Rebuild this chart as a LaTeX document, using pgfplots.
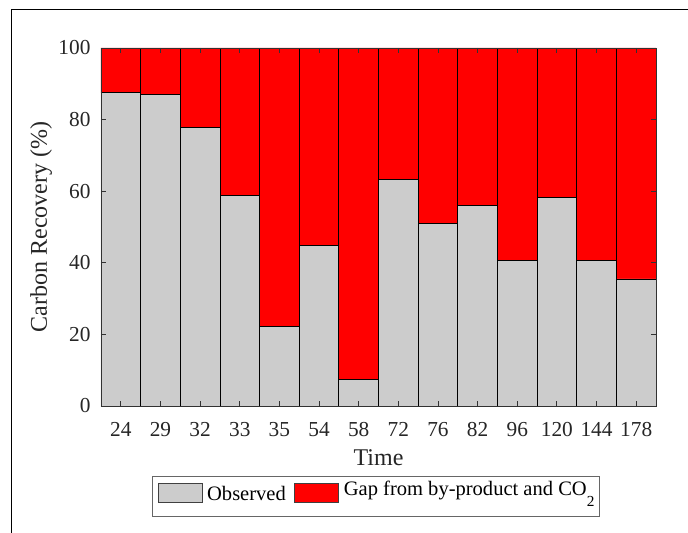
\documentclass[border=0pt]{standalone}
\usepackage{fontspec}
\setmainfont{Liberation Serif}
\usepackage{pgfplots}
\pgfplotsset{compat=1.18}
\definecolor{obsgray}{RGB}{204,204,204}
\definecolor{gapred}{RGB}{255,0,0}
\definecolor{axgray}{RGB}{50,50,50}
\begin{document}
\begin{tikzpicture}
\useasboundingbox (-75.75pt,-94.5pt) rectangle (440.25pt,304.5pt);
\draw[line width=1.2pt] (-67pt,-100pt) -- (-67pt,297.5pt) -- (450pt,297.5pt);
\begin{axis}[
  at={(0pt,0pt)}, anchor=south west,
  scale only axis, width=416.25pt, height=268.5pt,
  ybar stacked, bar width=1,
  xmin=0.5, xmax=14.5, ymin=0, ymax=100,
  enlargelimits=false,
  xtick={1,...,14},
  xticklabels={24,29,32,33,35,54,58,72,76,82,96,120,144,178},
  ytick={0,20,...,100},
  tick align=inside, major tick length=3.75pt,
  axis on top,
  axis line style={axgray, line width=0.6pt},
  tick style={axgray, line width=0.6pt},
  /pgf/number format/assume math mode=true,
  ticklabel style={font=\fontsize{16}{19}\selectfont, text=black!85},
  xticklabel style={anchor=base, yshift=-23pt},
  yticklabel style={anchor=east, inner xsep=0pt, xshift=-7.7pt},
  xlabel={Time},
  ylabel={Carbon Recovery (\%)},
  label style={font=\fontsize{18}{21}\selectfont, text=black!85},
  xlabel style={at={([yshift=-44.8pt]axis description cs:0.5,0)}, anchor=base},
  ylabel style={at={([xshift=-40.5pt]axis description cs:0,0.5)}, anchor=base, rotate=0},
  legend columns=2,
  legend image code/.code={\draw[#1, draw=black!75, line width=0.8pt] (0pt,-4.4pt) rectangle (33pt,9.4pt);},
  legend style={
    at={([yshift=-52.5pt]axis description cs:0.4955,0)}, anchor=north,
    draw=black!60, line width=0.8pt,
    inner xsep=3.75pt, inner ysep=2pt,
    font=\fontsize{15.4}{18}\selectfont,
    nodes={inner sep=0pt, text height=16pt, text depth=9.8pt},
    /tikz/every odd column/.style={column sep=3.4pt},
    /tikz/every even column/.style={column sep=6.3pt},
  },
]
\addplot[fill=obsgray, draw=black, line width=0.6pt] coordinates {
  (1,87.5) (2,87.1) (3,77.7) (4,58.7) (5,22.2) (6,44.9) (7,7.3)
  (8,63.2) (9,51.1) (10,56.1) (11,40.6) (12,58.2) (13,40.6) (14,35.5)};
\addlegendentry{Observed}
\addplot[fill=gapred, draw=black, line width=0.6pt] coordinates {
  (1,12.5) (2,12.9) (3,22.3) (4,41.3) (5,77.8) (6,55.1) (7,92.7)
  (8,36.8) (9,48.9) (10,43.9) (11,59.4) (12,41.8) (13,59.4) (14,64.5)};
\addlegendentry{\raisebox{3.75pt}{Gap from by-product and CO\raisebox{-8.25pt}{\fontsize{11.5}{12}\selectfont 2}}}
\end{axis}
\end{tikzpicture}
\end{document}
